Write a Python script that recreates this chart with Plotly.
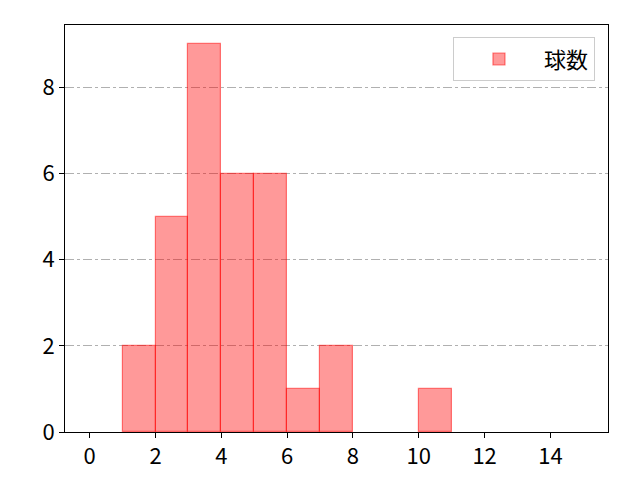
import plotly.graph_objects as go

# ヒストグラムのビン（左端）と度数
bin_left = [0, 1, 2, 3, 4, 5, 6, 7, 8, 9, 10, 11, 12, 13, 14]
counts = [0, 2, 5, 9, 6, 6, 1, 2, 0, 0, 1, 0, 0, 0, 0]
x_ticks = [0, 2, 4, 6, 8, 10, 12, 14]
y_ticks = [0, 2, 4, 6, 8]
label = "球数"

font_jp = "Noto Sans CJK JP"

# 度数 0 のビンは描かない
xs = [b + 0.5 for b, c in zip(bin_left, counts) if c > 0]
ys = [c for c in counts if c > 0]

fig = go.Figure()
fig.add_trace(go.Bar(
    x=xs,
    y=ys,
    width=1,
    name=label,
    marker=dict(color="rgba(255,0,0,0.4)",
                line=dict(color="rgba(255,0,0,0.5)", width=1.2)),
    showlegend=True,
))

# ページ余白 8px を差し引いた余白
fig.update_layout(
    width=640, height=480,
    margin=dict(l=57, r=40, t=17, b=56),
    plot_bgcolor="white", paper_bgcolor="white",
    font=dict(family=font_jp, size=22, color="black"),
    bargap=0,
    legend=dict(x=0.976, y=0.97, xanchor="right", yanchor="top",
                bgcolor="rgba(255,255,255,0.8)", bordercolor="#cccccc",
                borderwidth=1, font=dict(size=22),
                itemwidth=80),
    showlegend=True,
)
fig.update_xaxes(range=[-0.75, 15.75], tickvals=x_ticks, ticks="outside",
                 ticklen=5, tickcolor="black", showgrid=False, zeroline=False,
                 showline=True, linecolor="black", linewidth=1, mirror=True)
fig.update_yaxes(range=[0, 9.45], tickvals=y_ticks, ticks="outside",
                 ticklen=5, tickcolor="black", showgrid=True,
                 gridcolor="#b0b0b0", griddash="dashdot", gridwidth=1,
                 zeroline=False,
                 showline=True, linecolor="black", linewidth=1, mirror=True)

fig.write_html("out.html")
